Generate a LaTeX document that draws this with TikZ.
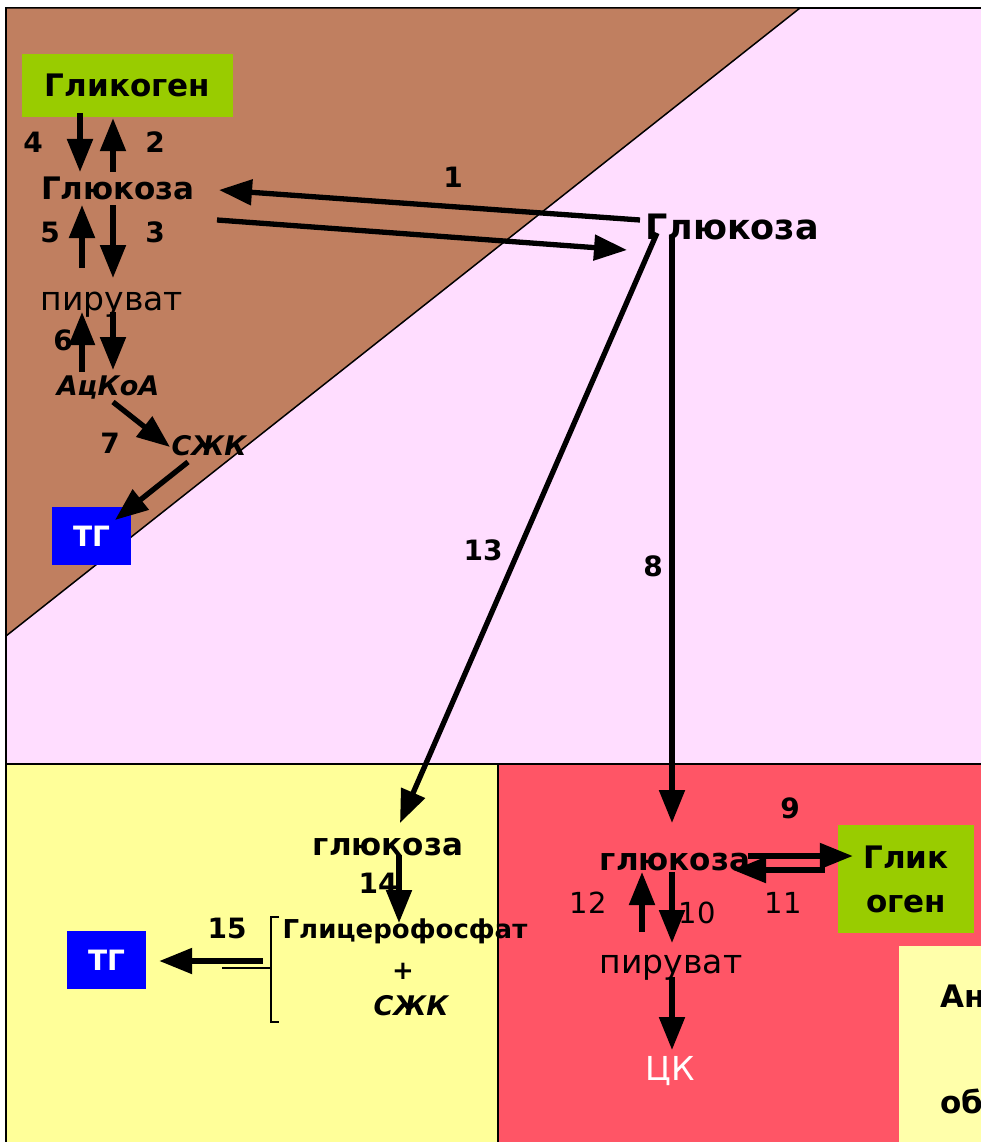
\documentclass[tikz,border=0pt]{standalone}
\usepackage{fontspec}
\setmainfont{DejaVu Sans}
\usetikzlibrary{arrows.meta}
\definecolor{liverbrown}{RGB}{192,127,96}
\definecolor{bloodpink}{RGB}{255,221,255}
\definecolor{fatyellow}{RGB}{255,255,153}
\definecolor{paleyellow}{RGB}{255,255,170}
\definecolor{musclered}{RGB}{255,85,102}
\definecolor{glygreen}{RGB}{153,204,0}
\definecolor{tgblue}{RGB}{0,0,255}

\begin{document}
\begin{tikzpicture}[x=1pt, y=-1pt,
  chem/.style={inner sep=0pt, anchor=base, font=\bfseries\fontsize{31}{33}\selectfont},
  chemreg/.style={inner sep=0pt, anchor=base, font=\fontsize{33}{35}\selectfont},
  chemit/.style={inner sep=0pt, anchor=base, font=\bfseries\itshape\fontsize{27}{29}\selectfont},
  num/.style={inner sep=0pt, anchor=base, font=\bfseries\fontsize{28}{30}\selectfont},
  numreg/.style={inner sep=0pt, anchor=base, font=\fontsize{29}{31}\selectfont},
  glybox/.style={fill=glygreen, inner sep=0pt, align=center,
                 font=\bfseries\fontsize{31}{44}\selectfont},
  tgbox/.style={fill=tgblue, text=white, inner sep=0pt, minimum width=79pt,
                minimum height=58pt, font=\bfseries\fontsize{28}{30}\selectfont},
  arr/.style={-{Triangle[length=33pt,width=25pt]}, line width=5.3pt}]
  \useasboundingbox (0,0) rectangle (981,1142);
  \clip (0,0) rectangle (981,1142);
  % compartments
  \fill[white] (0,0) rectangle (981,1142);
  \draw[line width=2pt, fill=bloodpink] (6,8) rectangle (995,764);
  \draw[line width=1.5pt, fill=liverbrown] (6,8) -- (800,8) -- (6,636) -- cycle;
  \draw[line width=1.5pt, fill=fatyellow] (6,764) rectangle (498,1150);
  \draw[line width=1.5pt, fill=musclered] (498,764) rectangle (995,1150);
  \fill[paleyellow] (899,946) rectangle (995,1150);

  % liver
  \node[glybox, minimum width=211pt, minimum height=63pt] (glycliv) at (127.5,85.5) {Гликоген};
  \node[chem] (gluliv) at (118,200) {Глюкоза};
  \node[chemreg] (pyrliv) at (112,310) {пируват};
  \node[chemit] (acoa) at (108,395) {АцКоА};
  \node[chemit] (ffaliv) at (209,455) {СЖК};
  \node[tgbox] (tgliv) at (91.5,536) {ТГ};
  % blood
  \node[chem, font=\bfseries\fontsize{35}{37}\selectfont] (glublood) at (732,239) {Глюкоза};
  % adipose tissue
  \node[chem] (gluadip) at (388,855) {глюкоза};
  \node[chem, font=\bfseries\fontsize{26}{28}\selectfont] (glp) at (405,938) {Глицерофосфат};
  \node[chem, font=\bfseries\fontsize{26}{28}\selectfont] (plus) at (403,979) {+};
  \node[chemit] (ffaadip) at (411,1015) {СЖК};
  \node[tgbox] (tgadip) at (106.5,960) {ТГ};
  \coordinate (brk) at (271,968);
  % muscle
  \node[chem] (glumus) at (675,870) {глюкоза};
  \node[glybox, minimum width=136pt, minimum height=108pt] (glycmus) at (906,879) {Глик\\оген};
  \node[chemreg] (pyrmus) at (671,973) {пируват};
  \node[chemreg, text=white] (tca) at (670,1080) {ЦК};
  \node[chem, anchor=base west] (side1) at (940,1007) {Ан};
  \node[chem, anchor=base west] (side2) at (940,1113) {об};

  % step numbers
  \node[num] (l4) at (33,153) {4};
  \node[num] (l2) at (155,153) {2};
  \node[num] (l5) at (50,242) {5};
  \node[num] (l3) at (155,242) {3};
  \node[num] (l6) at (63,350) {6};
  \node[num] (l7) at (110,453) {7};
  \node[num] (l1) at (453,187) {1};
  \node[num] (l13) at (483,560) {13};
  \node[num] (l8) at (653,576) {8};
  \node[num] (l14) at (378,893) {14};
  \node[num] (l15) at (227,938) {15};
  \node[num] (l9) at (790,818) {9};
  \node[numreg] (l11) at (783,913) {11};
  \node[numreg] (l12) at (588,913) {12};
  \node[numreg] (l10) at (697,923) {10};

  % bracket
  \draw[line width=1.3pt] ([shift={(8,-51)}]brk) -- ([shift={(0,-51)}]brk)
        -- ([shift={(0,54)}]brk) -- ([shift={(8,54)}]brk);
  \draw[line width=1.3pt] (brk) -- ([shift={(-49,0)}]brk);

  % liver arrows
  \draw[arr] ([shift={(-47.5,-4)}]glycliv.south) -- ([shift={(-38,-28)}]gluliv.base);
  \draw[arr] ([shift={(-5,-28)}]gluliv.base) -- ([shift={(-14.5,1)}]glycliv.south);
  \draw[arr] ([shift={(-30,-42)}]pyrliv.base) -- ([shift={(-36,5)}]gluliv.base);
  \draw[arr] ([shift={(-5,5)}]gluliv.base) -- ([shift={(1,-32)}]pyrliv.base);
  \draw[arr] ([shift={(-26,-23)}]acoa.base) -- ([shift={(-30,2)}]pyrliv.base);
  \draw[arr] ([shift={(1,2)}]pyrliv.base) -- ([shift={(5,-25)}]acoa.base);
  \draw[arr] ([shift={(5,7)}]acoa.base) -- ([shift={(-39,-8)}]ffaliv.base);
  \draw[arr] ([shift={(-21,7)}]ffaliv.base) -- ([shift={(23.5,-16)}]tgliv.center);
  % blood arrows
  \draw[arr] ([shift={(-92,-19)}]glublood.base) -- ([shift={(101,-10)}]gluliv.base);
  \draw[arr] ([shift={(99,20)}]gluliv.base) -- ([shift={(-105,11)}]glublood.base);
  \draw[arr] ([shift={(-75,-6)}]glublood.base) -- ([shift={(12,-32)}]gluadip.base);
  \draw[arr] ([shift={(-60,-4)}]glublood.base) -- ([shift={(-3,-47)}]glumus.base);
  % adipose arrows
  \draw[arr] ([shift={(11,0)}]gluadip.base) -- ([shift={(-6,-15)}]glp.base);
  \draw[arr] ([shift={(-8,-7)}]brk) -- ([shift={(13,1)}]tgadip.east);
  % muscle arrows
  \draw[arr] ([shift={(73,-14)}]glumus.base) -- ([shift={(15,-23)}]glycmus.west);
  \draw[arr] ([shift={(-13,-9)}]glycmus.west) -- ([shift={(58,0)}]glumus.base);
  \draw[arr] ([shift={(-29,-41)}]pyrmus.base) -- ([shift={(-33,2)}]glumus.base);
  \draw[arr] ([shift={(-3,2)}]glumus.base) -- ([shift={(1,-30)}]pyrmus.base);
  \draw[arr] ([shift={(1,4)}]pyrmus.base) -- ([shift={(2,-30)}]tca.base);
\end{tikzpicture}
\end{document}
